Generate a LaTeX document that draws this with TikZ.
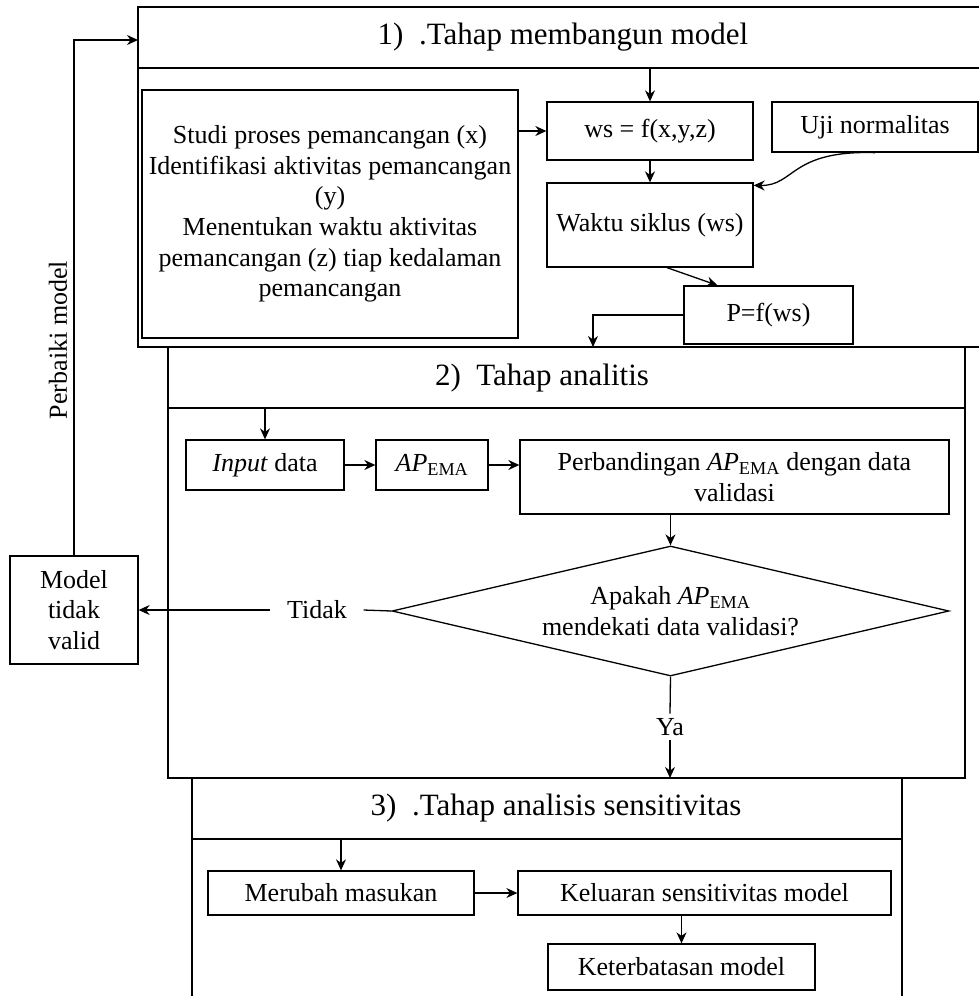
\documentclass[tikz,border=0pt]{standalone}
\usepackage{fontspec}
\setmainfont{Liberation Serif}
\usetikzlibrary{shapes.geometric, arrows.meta}

\newcommand{\isi}{\fontsize{26}{30.6}\selectfont}
\newcommand{\judul}{\fontsize{31}{36}\selectfont}
\newcommand{\apema}{\textit{AP}\textsubscript{EMA}}

\tikzset{
    kotak/.style={draw, rectangle, align=center, inner sep=0pt, font=\isi},
    keterangan/.style={align=center, inner sep=4pt, font=\isi},
    panah/.style={-{Stealth[length=11pt,width=10pt]}}
}

\begin{document}
\begin{tikzpicture}[x=1pt, y=-1pt, line width=1.3pt]
    % Fix the page size
    \path[use as bounding box, fill=white] (0,0) rectangle (979,996);

    % Draw the frames of the three stages
    \draw (979,7) -- (138,7) -- (138,347) -- (979,347);
    \draw (138,68) -- (979,68);
    \draw (168,347) rectangle (965,778);
    \draw (168,408) -- (965,408);
    \draw (192,996) -- (192,778) -- (902,778) -- (902,996);
    \draw (192,839) -- (902,839);
    \coordinate (garis1) at (0,68);
    \coordinate (garis2) at (0,408);
    \coordinate (garis3) at (0,839);
    \coordinate (batas2) at (0,778);

    % Stage titles
    \node[font=\judul] (judul1) at (563,37) {1)\ \ .Tahap membangun model};
    \node[font=\judul] (judul2) at (542,378) {2)\ \ Tahap analitis};
    \node[font=\judul] (judul3) at (556,808) {3)\ \ .Tahap analisis sensitivitas};

    % Stage 1: building the model
    \node[kotak, minimum width=376pt, minimum height=248pt] (studi) at (330,214)
        {Studi proses pemancangan (x)\\Identifikasi aktivitas pemancangan\\(y)\\Menentukan waktu aktivitas\\pemancangan (z) tiap kedalaman\\pemancangan};
    \node[kotak, minimum width=206pt, minimum height=58pt] (ws) at (650,131) {ws = f(x,y,z)};
    \node[kotak, minimum width=206pt, minimum height=50pt] (uji) at (875,127) {Uji normalitas};
    \node[kotak, minimum width=206pt, minimum height=84pt] (waktu) at (650,225) {Waktu siklus (ws)};
    \node[kotak, minimum width=169pt, minimum height=58pt] (pws) at (768.5,315) {P=f(ws)};
    \coordinate (masuk2) at (593,347);

    \draw[panah] (ws.north |- garis1) -- (ws.north);
    \draw[panah] (studi.east |- ws.west) -- (ws.west);
    \draw[panah] (ws.south) -- (waktu.north);
    \draw[panah] (uji.south) .. controls (790,150) and (795,186) .. ([yshift=-3pt]waktu.north east);
    \draw[panah] ([xshift=17pt]waktu.south) -- ([xshift=-51pt]pws.north);
    \draw[panah] (pws.west) -| (masuk2);

    % Stage 2: analysis
    \node[kotak, minimum width=158pt, minimum height=50pt] (input) at (265,465) {\textit{Input} data};
    \node[kotak, minimum width=112pt, minimum height=50pt] (ap) at (432,465) {\apema};
    \node[kotak, minimum width=429pt, minimum height=74pt] (banding) at (734.5,477)
        {Perbandingan \apema{} dengan data\\validasi};
    \node[draw, diamond, aspect=4.28, minimum width=557pt, minimum height=130pt, inner sep=0pt,
          align=center, font=\isi] (keputusan) at (670.5,611)
        {Apakah \apema\\mendekati data validasi?};
    \node[kotak, minimum width=128pt, minimum height=108pt] (model) at (74,610) {Model\\tidak\\valid};
    \node[keterangan, inner xsep=16pt] (tidak) at (317,610) {Tidak};
    \node[keterangan] (ya) at (670,727) {Ya};
    \node[keterangan, rotate=90] (perbaiki) at (58,340) {Perbaiki model};
    \coordinate (masuk1) at (138,40);

    \draw[panah] (input.north |- garis2) -- (input.north);
    \draw[panah] (input.east) -- (ap.west);
    \draw[panah] (ap.east) -- (ap.east -| banding.west);
    \draw[panah] (keputusan.north |- banding.south) -- (keputusan.north);
    \draw (keputusan.west) -- (tidak.east);
    \draw[panah] (tidak.west) -- (model.east);
    \draw (keputusan.south) -- (ya.north);
    \draw[panah] (ya.south) -- (ya.south |- batas2);
    \draw[panah] (model.north) |- (masuk1);

    % Stage 3: sensitivity analysis
    \node[kotak, minimum width=266pt, minimum height=44pt] (merubah) at (341,893) {Merubah masukan};
    \node[kotak, minimum width=373pt, minimum height=44pt] (keluaran) at (704.5,893) {Keluaran sensitivitas model};
    \node[kotak, minimum width=267pt, minimum height=46pt] (keterbatasan) at (681.5,967) {Keterbatasan model};

    \draw[panah] (merubah.north |- garis3) -- (merubah.north);
    \draw[panah] (merubah.east) -- (keluaran.west);
    \draw[panah] (keterbatasan.north |- keluaran.south) -- (keterbatasan.north);
\end{tikzpicture}
\end{document}
